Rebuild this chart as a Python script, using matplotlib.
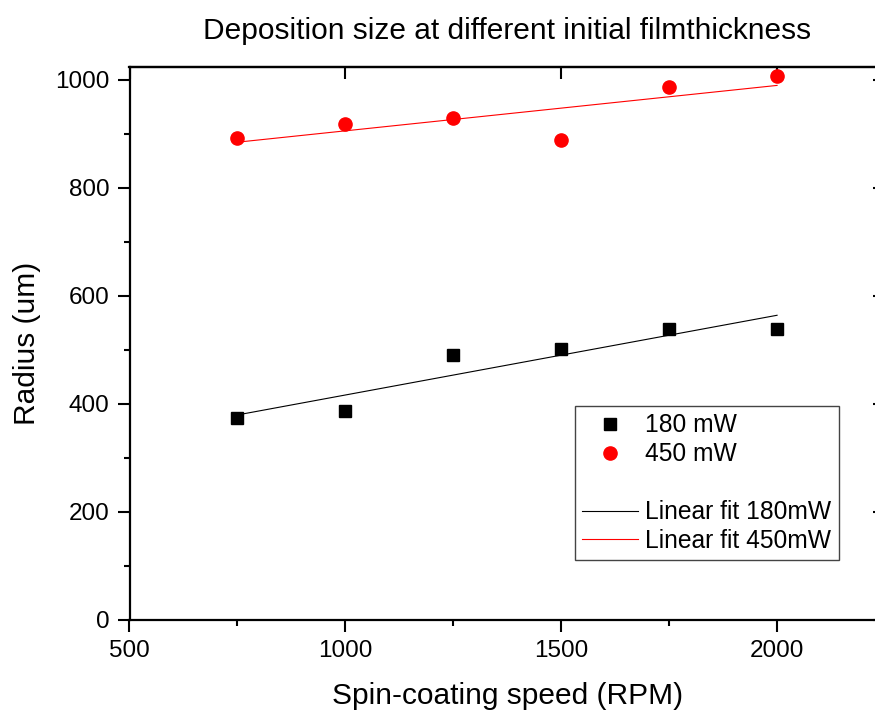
import numpy as np
import matplotlib
matplotlib.use("Agg")
import matplotlib.pyplot as plt
from matplotlib.lines import Line2D
from matplotlib.ticker import MultipleLocator

plt.rcParams['font.family'] = ['Liberation Sans', 'DejaVu Sans']

speed = np.array([750, 1000, 1250, 1500, 1750, 2000])
radius_180 = np.array([374, 387, 491, 502, 539, 539])
radius_450 = np.array([893, 918, 930, 889, 987, 1007])

title = "Deposition size at different initial filmthickness"
xlabel = "Spin-coating speed (RPM)"
ylabel = "Radius (um)"

fig = plt.figure(figsize=(8.75, 7.11), dpi=100)
W, H = 875, 711
ax = fig.add_axes([129.5 / W, 91 / H, (885 - 129.5) / W, 553 / H])

ax.plot(speed, radius_180, 's', color='black', markersize=8.5, label='180 mW', zorder=3)
ax.plot(speed, radius_450, 'o', color='#ff0000', markersize=9.5, label='450 mW', zorder=3)

p180 = np.polyfit(speed, radius_180, 1)
p450 = np.polyfit(speed, radius_450, 1)
xf = np.array([speed.min(), speed.max()])
ax.plot(xf, np.polyval(p180, xf), '-', color='black', linewidth=0.8, label='Linear fit 180mW')
ax.plot(xf, np.polyval(p450, xf), '-', color='#ff0000', linewidth=0.8, label='Linear fit 450mW')

ax.set_xlim(500, 2250)
ax.set_ylim(0, 1024)
ax.xaxis.set_major_locator(MultipleLocator(500))
ax.xaxis.set_minor_locator(MultipleLocator(250))
ax.yaxis.set_major_locator(MultipleLocator(200))
ax.yaxis.set_minor_locator(MultipleLocator(100))

for s in ax.spines.values():
    s.set_linewidth(1.6)

ax.tick_params(axis='both', which='major', direction='out', length=8.5, width=1.5,
               labelsize=17.5, pad=6)
ax.tick_params(axis='both', which='minor', direction='out', length=4.5, width=1.5)
ax.tick_params(axis='both', which='both', top=False, right=False)

# inward ticks on top and right
ax_t = ax.secondary_xaxis('top')
ax_t.set_xticks(ax.get_xticks())
ax_t.tick_params(direction='in', length=8.5, width=1.5, labeltop=False)
ax_t.spines['top'].set_linewidth(1.6)
ax_r = ax.secondary_yaxis('right')
ax_r.set_yticks(ax.get_yticks())
ax_r.tick_params(direction='in', length=8.5, width=1.5, labelright=False)
ax_r.spines['right'].set_linewidth(1.6)

ax.set_xlabel(xlabel, fontsize=21.5, labelpad=14)
ax.set_ylabel(ylabel, fontsize=21.5, labelpad=10)
ax.set_title(title, fontsize=21.5, pad=20)

blank = Line2D([], [], linestyle='none', marker='none')
h, l = ax.get_legend_handles_labels()
handles = [h[0], h[1], blank, h[2], h[3]]
labels = [l[0], l[1], ' ', l[2], l[3]]
leg = ax.legend(handles, labels, loc='upper left', bbox_to_anchor=(575 / W, 1 - 406 / H),
                bbox_transform=fig.transFigure, borderaxespad=0, fontsize=17.7,
                frameon=True, fancybox=False, framealpha=1, edgecolor='#444444',
                handlelength=2.25, handletextpad=0.3, labelspacing=0.2, borderpad=0.3,
                numpoints=1)
leg.get_frame().set_linewidth(1.0)

fig.savefig('out.png', dpi=100)
